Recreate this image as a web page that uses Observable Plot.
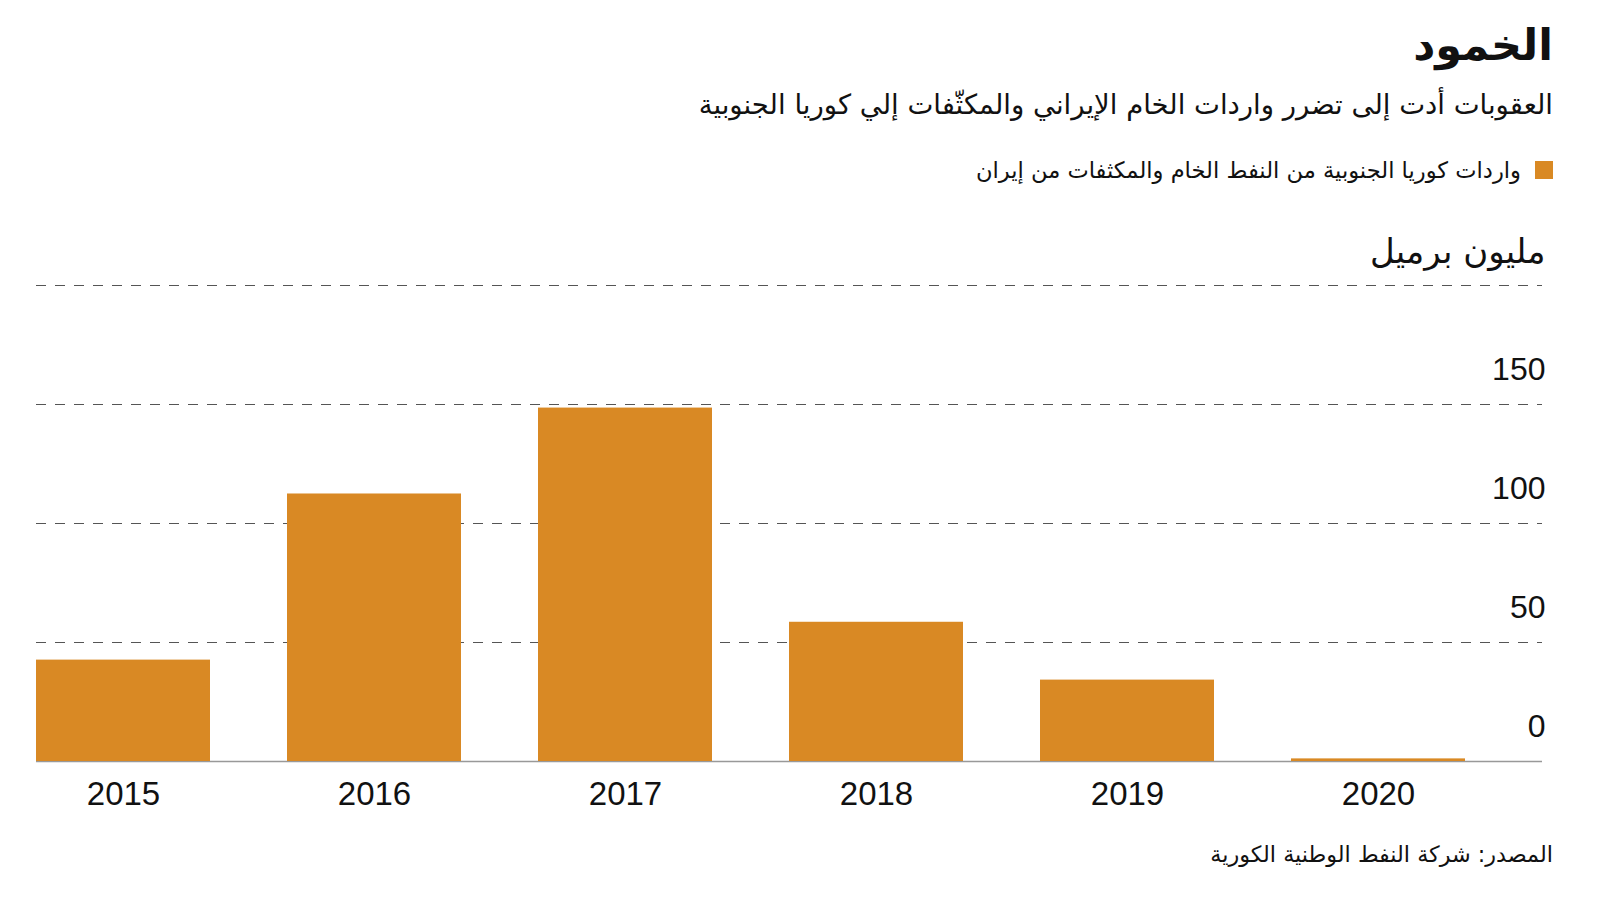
<!DOCTYPE html>
<html lang="ar">
<head>
<meta charset="utf-8">
<script src="https://cdn.jsdelivr.net/npm/d3@7"></script>
<script src="https://cdn.jsdelivr.net/npm/@observablehq/plot@0.6"></script>
<style>
  html, body { margin: 0; padding: 0; background: #fff; }
  #wrap { position: relative; width: 1600px; height: 900px; overflow: hidden; color: #111; }
  .ar { font-family: "DejaVu Sans", "Noto Sans", sans-serif; direction: rtl; position: absolute; right: 47px; white-space: nowrap; }
  #title { top: 20px; font-size: 43px; font-weight: bold; }
  #subtitle { top: 88px; font-size: 27.5px; }
  #legend { top: 157px; font-size: 22.6px; display: flex; align-items: center; gap: 14px; }
  #legend .sw { width: 18px; height: 18px; background: #D98924; display: inline-block; }
  #source { top: 841px; font-size: 22.3px; }
  #chart { position: absolute; left: 0; top: 200px; }
</style>
</head>
<body>
<div id="wrap">
  <div id="title" class="ar">الخمود</div>
  <div id="subtitle" class="ar">العقوبات أدت إلى تضرر واردات الخام الإيراني والمكثّفات إلي كوريا الجنوبية</div>
  <div id="legend" class="ar"><span class="sw"></span><span>واردات كوريا الجنوبية من النفط الخام والمكثفات من إيران</span></div>
  <div id="chart"></div>
  <div id="source" class="ar">المصدر: شركة النفط الوطنية الكورية</div>
</div>
<script>
const years = ["2015", "2016", "2017", "2018", "2019", "2020"];
const imports = [42.6, 112.4, 148.5, 58.5, 34.2, 1.1];
const yTickValues = [0, 50, 100, 150];
const gridValues = [50, 100, 150, 200];
const unitLabel = "مليون برميل";
const barColor = "#D98924";

const data = years.map((y, i) => ({year: y, value: imports[i]}));

const plot = Plot.plot({
  width: 1600,
  height: 620,
  marginTop: 85,
  marginBottom: 59,
  marginLeft: 36,
  marginRight: 58,
  x: {domain: years, paddingInner: 0.305, paddingOuter: 0.1525, align: 0, label: null},
  y: {domain: [0, 200], label: null, axis: null},
  style: {fontFamily: "'Liberation Sans', Arial, sans-serif", fontSize: "32px", color: "#111", background: "white", overflow: "visible"},
  marks: [
    Plot.ruleY(gridValues, {stroke: "#555", strokeWidth: 1, strokeDasharray: "10,9"}),
    Plot.ruleY([0], {stroke: "#999", strokeWidth: 1.5}),
    Plot.barY(data, {x: "year", y: "value", fill: barColor}),
    Plot.axisX({tickSize: 0, tickPadding: 20, fontSize: 33, label: null}),
    Plot.text(yTickValues, {y: d => d, text: d => String(d), frameAnchor: "right", textAnchor: "end", dx: 3, dy: -35, fontSize: 32, fill: "#111"}),
    Plot.text([200], {y: d => d, text: () => unitLabel, frameAnchor: "right", textAnchor: "end", dx: 3, dy: -33, fontSize: 34, fill: "#111", fontFamily: "'DejaVu Sans', sans-serif"})
  ]
});
document.getElementById("chart").appendChild(plot);
</script>
</body>
</html>
